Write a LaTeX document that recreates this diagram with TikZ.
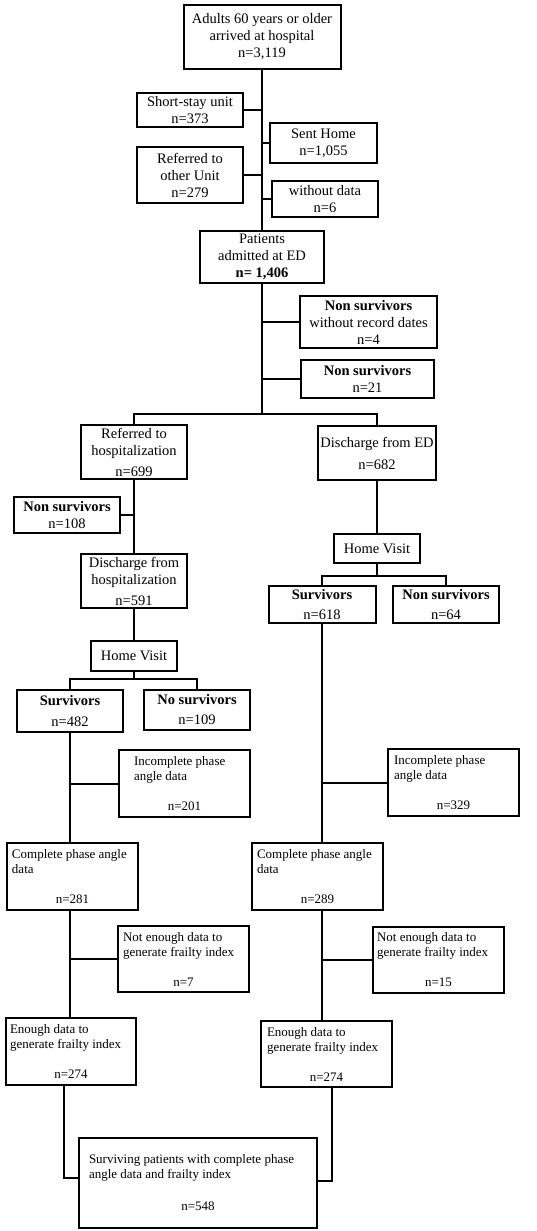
\documentclass[tikz,border=0pt]{standalone}
\usepackage{fontspec}
\setmainfont{Liberation Serif}
\newcommand{\ncount}[1]{\hspace*{\fill}#1\hspace*{\fill}\null}
\begin{document}
\begin{tikzpicture}[x=1pt, y=-1pt, line width=2pt,
  box/.style={draw, align=center, inner sep=0pt, font=\fontsize{14.5}{17}\selectfont},
  lowbox/.style={draw, align=flush left, inner ysep=0pt, font=\fontsize{13}{15}\selectfont}]
\useasboundingbox (0,0) rectangle (536,1231);
\node[box, minimum width=157pt, minimum height=64pt] (arrived) at (262,37) {Adults 60 years or older\\arrived at hospital\\n=3,119};
\node[box, minimum width=106pt, minimum height=34pt] (shortstay) at (190,110) {Short-stay unit\\n=373};
\node[box, minimum width=107pt, minimum height=40pt] (senthome) at (323.5,143) {Sent Home\\n=1,055};
\node[box, minimum width=106pt, minimum height=56pt] (otherunit) at (190,175) {Referred to\\other Unit\\n=279};
\node[box, minimum width=106pt, minimum height=36pt] (nodata) at (325,199) {without data\\n=6};
\node[box, minimum width=124pt, minimum height=52pt] (admitted) at (262,257) {Patients\\admitted at ED\\\textbf{n= 1,406}};
\node[box, minimum width=137pt, minimum height=52pt] (norecord) at (368.5,322) {\textbf{Non survivors}\\without record dates\\n=4};
\node[box, minimum width=133pt, minimum height=38pt] (deadED) at (367.5,379) {\textbf{Non survivors}\\n=21};
\coordinate (split) at (262,414);
\node[box, minimum width=106pt, minimum height=54pt] (hosp) at (134,452) {Referred to\\hospitalization\\[4pt]n=699};
\node[box, minimum width=118pt, minimum height=54pt] (dischED) at (377,453) {Discharge from ED\\[5pt]n=682};
\node[box, minimum width=106pt, minimum height=36pt] (deadhosp) at (67,515) {\textbf{Non survivors}\\n=108};
\node[box, minimum width=106pt, minimum height=54pt] (dischhosp) at (134,581) {Discharge from\\hospitalization\\[4pt]n=591};
\node[box, minimum width=86pt, minimum height=29pt] (visitR) at (377,548.5) {Home Visit};
\coordinate (splitR) at (377,576);
\node[box, minimum width=107pt, minimum height=37pt] (aliveR) at (322,604.5) {\textbf{Survivors}\\[3pt]n=618};
\node[box, minimum width=106pt, minimum height=37pt] (deadR) at (446,604.5) {\textbf{Non survivors}\\[3pt]n=64};
\node[box, minimum width=86pt, minimum height=30pt] (visitL) at (134,656) {Home Visit};
\coordinate (splitL) at (134,679);
\node[box, minimum width=106pt, minimum height=42pt] (aliveL) at (70,711) {\textbf{Survivors}\\[4pt]n=482};
\node[box, minimum width=106pt, minimum height=40pt] (deadL) at (197,710) {\textbf{No survivors}\\[3pt]n=109};
\node[lowbox, text width=101pt, inner xsep=15pt, minimum height=67pt] (phaseoutL) at (184.5,783.5) {Incomplete phase\\angle data\\[15pt]\ncount{n=201}};
\node[lowbox, text width=119pt, inner xsep=6pt, minimum height=67pt] (phaseoutR) at (453.5,782.5) {Incomplete phase\\angle data\\[15pt]\ncount{n=329}};
\node[lowbox, text width=121pt, inner xsep=5pt, minimum height=67pt] (phaseL) at (72.5,876.5) {Complete phase angle\\data\\[15pt]\ncount{n=281}};
\node[lowbox, text width=121pt, inner xsep=5pt, minimum height=67pt] (phaseR) at (317.5,876.5) {Complete phase angle\\data\\[15pt]\ncount{n=289}};
\node[lowbox, text width=121pt, inner xsep=5pt, minimum height=66pt] (frailoutL) at (183.5,959) {Not enough data to\\generate frailty index\\[15pt]\ncount{n=7}};
\node[lowbox, text width=123pt, inner xsep=4pt, minimum height=66pt] (frailoutR) at (438.5,960) {Not enough data to\\generate frailty index\\[15pt]\ncount{n=15}};
\node[lowbox, text width=122pt, inner xsep=4pt, minimum height=67pt] (frailL) at (71,1051.5) {Enough data to\\generate frailty index\\[15pt]\ncount{n=274}};
\node[lowbox, text width=119pt, inner xsep=6pt, minimum height=66pt] (frailR) at (326.5,1054) {Enough data to\\generate frailty index\\[15pt]\ncount{n=274}};
\node[lowbox, text width=218pt, inner xsep=10pt, minimum height=90pt] (final) at (198,1183) {Surviving patients with complete phase\\angle data and frailty index\\[17pt]\ncount{n=548}};
\draw (arrived) -- (admitted);
\draw (shortstay) -- (shortstay -| arrived);
\draw (senthome) -- (senthome -| arrived);
\draw (otherunit) -- (otherunit -| arrived);
\draw (nodata) -- (nodata -| arrived);
\draw (admitted) -- (split);
\draw (norecord) -- (norecord -| admitted);
\draw (deadED) -- (deadED -| admitted);
\draw (hosp) |- (split) -| (dischED);
\draw (hosp) -- (dischhosp);
\draw (deadhosp) -- (deadhosp -| hosp);
\draw (dischhosp) -- (visitL);
\draw (visitL) -- (splitL);
\draw (aliveL) |- (splitL) -| (deadL);
\draw (dischED) -- (visitR);
\draw (visitR) -- (splitR);
\draw (aliveR) |- (splitR) -| (deadR);
\draw (aliveL) -- (aliveL |- phaseL.north);
\draw (phaseoutL) -- (phaseoutL -| aliveL);
\draw (aliveR) -- (aliveR |- phaseR.north);
\draw (phaseoutR) -- (phaseoutR -| aliveR);
\draw (aliveL |- phaseL.south) -- (aliveL |- frailL.north);
\draw (frailoutL) -- (frailoutL -| aliveL);
\draw (aliveR |- phaseR.south) -- (aliveR |- frailR.north);
\draw (frailoutR) -- (frailoutR -| aliveR);
\draw ([xshift=-7pt]frailL.south) |- ([yshift=5pt]final.west);
\draw ([xshift=5pt]frailR.south) |- ([yshift=2pt]final.east);
\end{tikzpicture}
\end{document}
